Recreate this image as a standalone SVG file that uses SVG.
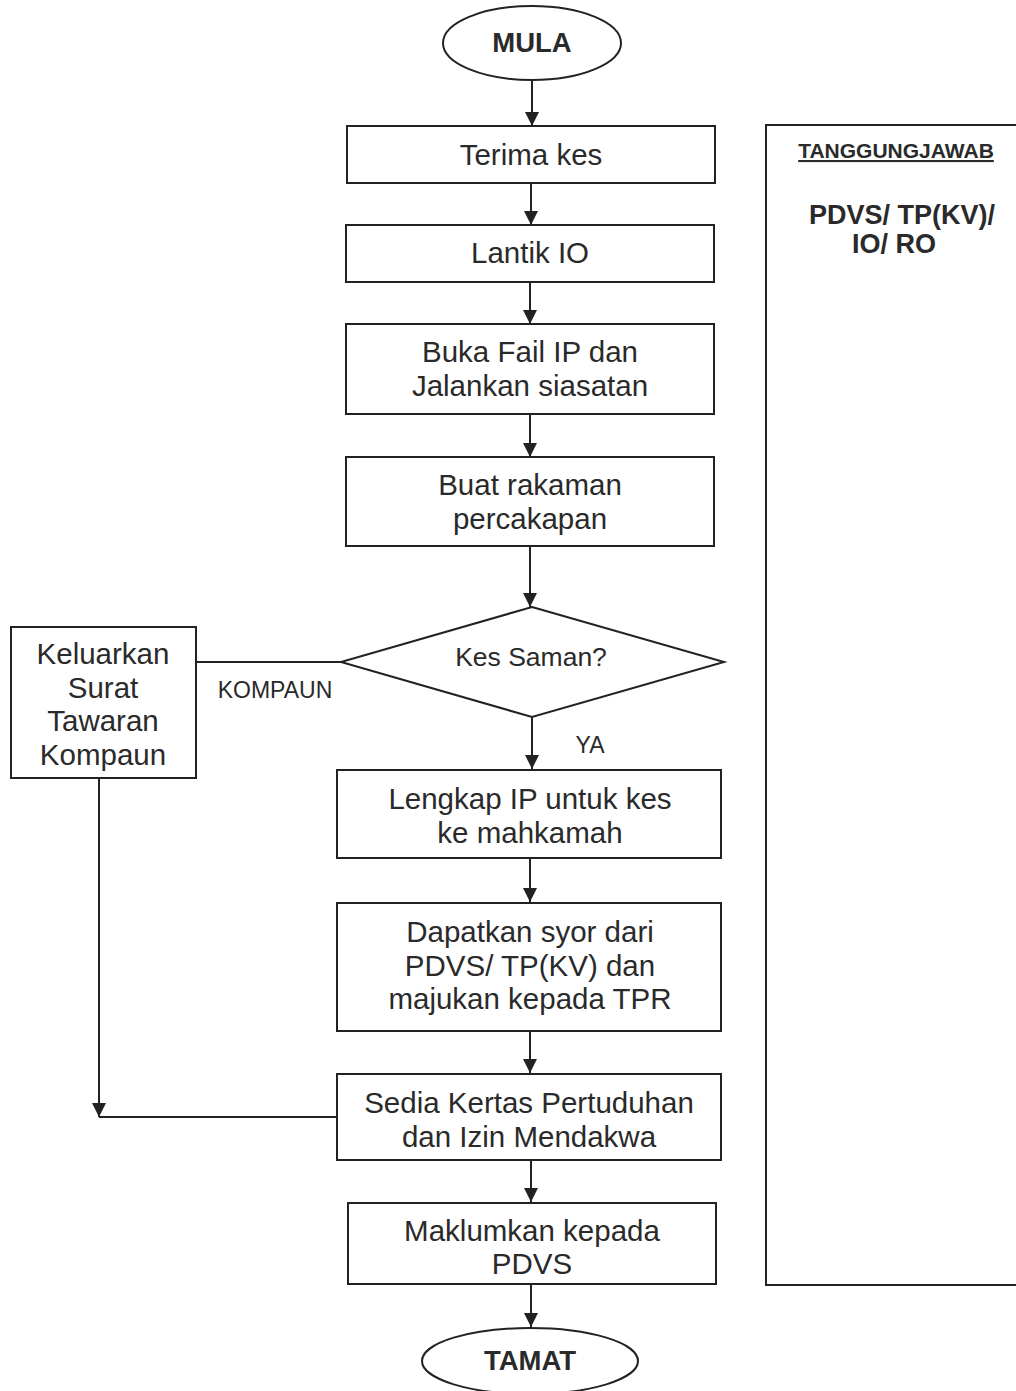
<svg xmlns="http://www.w3.org/2000/svg" width="1016" height="1391" viewBox="0 0 1016 1391">
<defs>
<marker id="arr" viewBox="0 0 10 10" refX="10" refY="5" markerWidth="14" markerHeight="16" markerUnits="userSpaceOnUse" orient="auto">
<path d="M0,0 L10,5 L0,10 z" fill="#222"/>
</marker>
<style>
.box{fill:#fff;stroke:#222;stroke-width:2}
.t{font-family:"Liberation Sans",Arial,sans-serif;font-size:29.5px;fill:#2a2a2a;text-anchor:middle}
.b{font-weight:bold;font-size:27.5px}
.s{font-size:23px}
.q{font-size:26.5px}
.h{font-size:21px;font-weight:bold;text-decoration:underline}
.r{font-size:27px;font-weight:bold}
.ln{fill:none;stroke:#222;stroke-width:2}
</style>
</defs>
<rect width="1016" height="1391" fill="#fff"/>
<g id="mula"><ellipse class="box" cx="532" cy="43" rx="89" ry="37"/><text class="t b" x="532" y="52">MULA</text></g>
<g id="terima"><rect class="box" x="347" y="126" width="368" height="57"/><text class="t" x="531" y="165">Terima kes</text></g>
<g id="lantik"><rect class="box" x="346" y="225" width="368" height="57"/><text class="t" x="530" y="263">Lantik IO</text></g>
<g id="buka"><rect class="box" x="346" y="324" width="368" height="90"/><text class="t" x="530" y="362">Buka Fail IP dan</text><text class="t" x="530" y="396">Jalankan siasatan</text></g>
<g id="buat"><rect class="box" x="346" y="457" width="368" height="89"/><text class="t" x="530" y="495">Buat rakaman</text><text class="t" x="530" y="529">percakapan</text></g>
<g id="kes"><polygon class="box" points="532,607 724,662 532,717 341,662"/><text class="t q" x="531" y="666">Kes Saman?</text></g>
<g id="keluarkan"><rect class="box" x="11" y="627" width="185" height="151"/><text class="t" x="103" y="664">Keluarkan</text><text class="t" x="103" y="698">Surat</text><text class="t" x="103" y="731">Tawaran</text><text class="t" x="103" y="765">Kompaun</text></g>
<g id="lengkap"><rect class="box" x="337" y="770" width="384" height="88"/><text class="t" x="530" y="809">Lengkap IP untuk kes</text><text class="t" x="530" y="843">ke mahkamah</text></g>
<g id="dapatkan"><rect class="box" x="337" y="903" width="384" height="128"/><text class="t" x="530" y="942">Dapatkan syor dari</text><text class="t" x="530" y="976">PDVS/ TP(KV) dan</text><text class="t" x="530" y="1009">majukan kepada TPR</text></g>
<g id="sedia"><rect class="box" x="337" y="1074" width="384" height="86"/><text class="t" x="529" y="1113">Sedia Kertas Pertuduhan</text><text class="t" x="529" y="1147">dan Izin Mendakwa</text></g>
<g id="maklumkan"><rect class="box" x="348" y="1203" width="368" height="81"/><text class="t" x="532" y="1241">Maklumkan kepada</text><text class="t" x="532" y="1274">PDVS</text></g>
<g id="tamat"><ellipse class="box" cx="530" cy="1361" rx="108" ry="33"/><text class="t b" x="530" y="1370">TAMAT</text></g>
<g id="tanggungjawab"><path class="ln" d="M1018,125 L766,125 L766,1285 L1018,1285"/><text class="t h" x="896" y="158">TANGGUNGJAWAB</text><text class="t r" x="902" y="224">PDVS/ TP(KV)/</text><text class="t r" x="894" y="253">IO/ RO</text></g>
<g id="connectors">
<line class="ln" x1="532" y1="80" x2="532" y2="126" marker-end="url(#arr)"/>
<line class="ln" x1="531" y1="183" x2="531" y2="225" marker-end="url(#arr)"/>
<line class="ln" x1="530" y1="282" x2="530" y2="324" marker-end="url(#arr)"/>
<line class="ln" x1="530" y1="414" x2="530" y2="457" marker-end="url(#arr)"/>
<line class="ln" x1="530" y1="546" x2="530" y2="607" marker-end="url(#arr)"/>
<line class="ln" x1="341" y1="662" x2="196" y2="662"/>
<line class="ln" x1="532" y1="717" x2="532" y2="769" marker-end="url(#arr)"/>
<line class="ln" x1="530" y1="858" x2="530" y2="902" marker-end="url(#arr)"/>
<line class="ln" x1="530" y1="1031" x2="530" y2="1073" marker-end="url(#arr)"/>
<line class="ln" x1="531" y1="1160" x2="531" y2="1202" marker-end="url(#arr)"/>
<line class="ln" x1="531" y1="1284" x2="531" y2="1327" marker-end="url(#arr)"/>
<line class="ln" x1="99" y1="778" x2="99" y2="1117" marker-end="url(#arr)"/>
<line class="ln" x1="99" y1="1117" x2="337" y2="1117"/>
<text class="t s" x="275" y="698">KOMPAUN</text>
<text class="t s" x="590" y="753">YA</text>
</g>
</svg>
